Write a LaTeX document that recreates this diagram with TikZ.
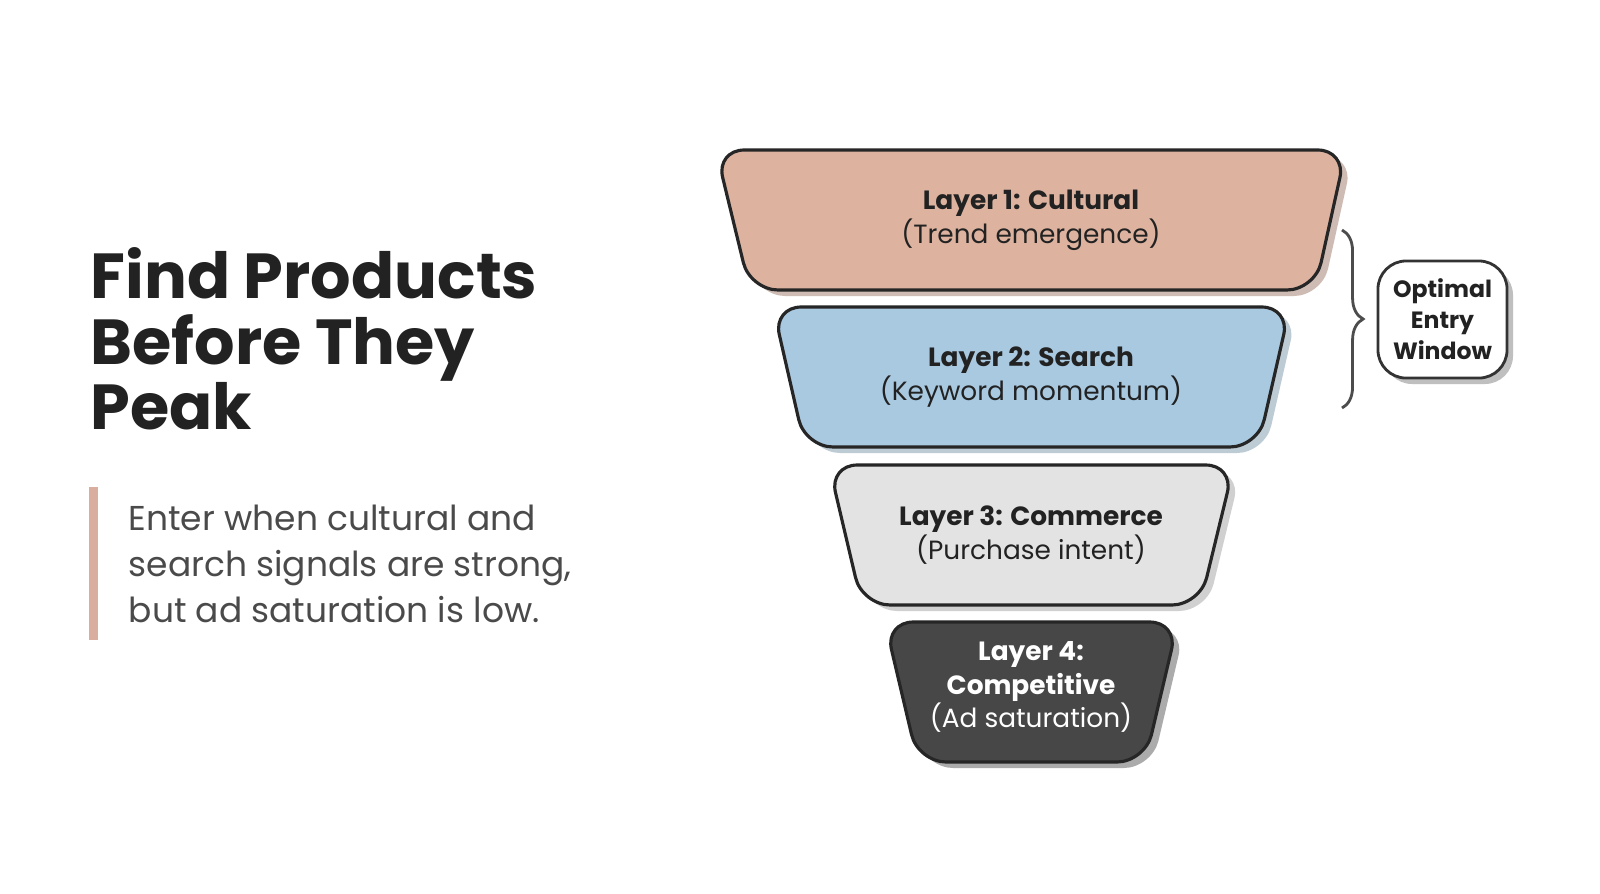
\documentclass[tikz,border=0pt]{standalone}
\usepackage{fontspec}
\setmainfont{Poppins}
\usetikzlibrary{decorations.pathreplacing}
\definecolor{l1}{HTML}{DDB3A0}
\definecolor{l2}{HTML}{A9C9E1}
\definecolor{l3}{HTML}{E3E3E3}
\definecolor{l4}{HTML}{474747}
\definecolor{bar}{HTML}{D9AE9E}
\definecolor{txt}{HTML}{222222}
\definecolor{body}{HTML}{4A4A4A}
\tikzset{
 layer/.style={draw=black!85, line width=0.9pt, rounded corners=8pt},
 shad/.style={fill=#1, rounded corners=8pt},
 lbl/.style={align=center, font=\fontsize{7.5}{9.6}\selectfont, text=txt},
}
\begin{document}
\begin{tikzpicture}[x=0.01cm,y=-0.01cm]
\fill[white] (0,0) rectangle (1600,893);
\useasboundingbox (0,0) rectangle (1600,893);
% title
\node[anchor=north west, align=left, inner sep=0, text=txt, font=\fontsize{18.1}{18.6}\selectfont\bfseries] (title) at (90,247) {Find Products\\Before They\\Peak};
\fill[bar] (89,487) rectangle (98,640);
\node[anchor=west, align=left, inner sep=0, text=body, font=\fontsize{9.8}{13.1}\selectfont] (body) at (128,564) {Enter when cultural and\\search signals are strong,\\but ad saturation is low.};
% layers
\foreach \ta/\tb/\ba/\bb/\y/\c/\sc in {716/1346/750/1315/150/l1/l1!75!black, 773/1290/805/1258/307/l2/l2!80!black, 829/1234/862/1200/465/l3/l3!75!black, 885/1178/918/1145/622/l4/black!60}{
 \fill[shad=\sc, opacity=0.55] (\ta+7,\y+6) -- (\tb+7,\y+6) -- (\bb+7,\y+146) -- (\ba+7,\y+146) -- cycle;
 \filldraw[layer, fill=\c] (\ta,\y) -- (\tb,\y) -- (\bb,\y+140) -- (\ba,\y+140) -- cycle;
}
\node[lbl] (L1) at (1031,220) {\textbf{Layer 1: Cultural}\\(Trend emergence)};
\node[lbl] (L2) at (1031,377) {\textbf{Layer 2: Search}\\(Keyword momentum)};
\node[lbl] (L3) at (1031,535) {\textbf{Layer 3: Commerce}\\(Purchase intent)};
\node[lbl, text=white] (L4) at (1031,687) {\textbf{Layer 4:}\\\textbf{Competitive}\\(Ad saturation)};
% brace
\coordinate (bt) at (1342,230);
\coordinate (bb) at (1342,408);
\draw[black!70, line width=0.8pt, decorate, decoration={brace, amplitude=6pt}] (bt) -- (bb);
% box
\fill[black!25, rounded corners=8pt] (1384,267) rectangle (1513,384);
\node[draw=black!80, line width=0.8pt, fill=white, rounded corners=8pt, minimum width=1.29cm, minimum height=1.17cm, align=center, text=txt, font=\fontsize{6.7}{8.8}\selectfont\bfseries, inner sep=0] (win) at (1442.5,319.5) {Optimal\\Entry\\Window};
\end{tikzpicture}
\end{document}
